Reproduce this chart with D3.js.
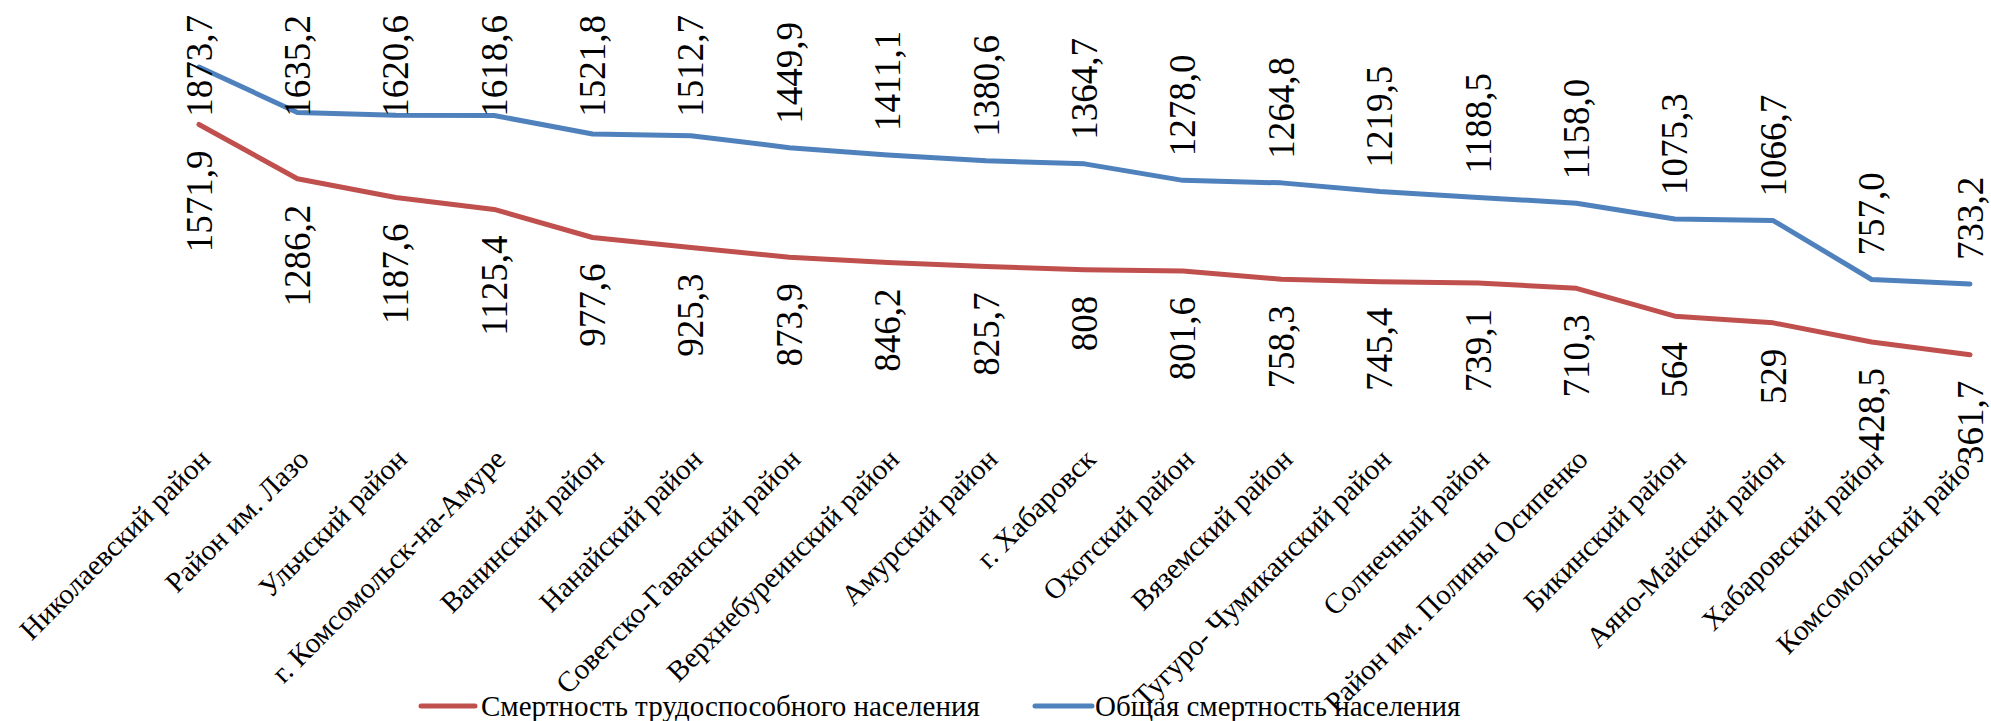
<!DOCTYPE html>
<html lang="ru">
<head>
<meta charset="UTF-8">
<title>Смертность населения</title>
<script src="https://d3js.org/d3.v7.min.js"></script>
<style>
    body { margin: 0; background: #fff; }
    svg { display: block; }
    .value-label { font-family: 'Liberation Serif', 'DejaVu Serif', serif; font-size: 37px; fill: #000; }
    .cat-label { font-family: 'Liberation Serif', 'DejaVu Serif', serif; font-size: 29px; fill: #000; }
    .legend-label { font-family: 'Liberation Serif', 'DejaVu Serif', serif; font-size: 29px; fill: #000; }
</style>
</head>
<body>
<div id="chart"></div>
<script>
// Data
const districts = [
    'Николаевский район', 'Район им. Лазо', 'Ульчский район', 'г. Комсомольск-на-Амуре',
    'Ванинский район', 'Нанайский район', 'Советско-Гаванский район', 'Верхнебуреинский район',
    'Амурский район', 'г. Хабаровск', 'Охотский район', 'Вяземский район',
    'Тугуро- Чумиканский район', 'Солнечный район', 'Район им. Полины Осипенко', 'Бикинский район',
    'Аяно-Майский район', 'Хабаровский район', 'Комсомольский район'
];
const workingAgeMortality = [1571.9, 1286.2, 1187.6, 1125.4, 977.6, 925.3, 873.9, 846.2, 825.7, 808,
    801.6, 758.3, 745.4, 739.1, 710.3, 564, 529, 428.5, 361.7];
const totalMortality = [1873.7, 1635.2, 1620.6, 1618.6, 1521.8, 1512.7, 1449.9, 1411.1, 1380.6, 1364.7,
    1278.0, 1264.8, 1219.5, 1188.5, 1158.0, 1075.3, 1066.7, 757.0, 733.2];
const seriesNames = ['Смертность трудоспособного населения', 'Общая смертность населения'];
const yDomain = [0, 2000];

const W = 1991, H = 721;
const colors = { red: '#C0504D', blue: '#4F81BD' };

const svg = d3.select('#chart').append('svg')
    .attr('width', W).attr('height', H);

const x = d3.scalePoint().domain(districts).range([199, 1970]);
const y = d3.scaleLinear().domain(yDomain).range([423.5, 43]);

const comma = v => String(v).replace('.', ',');
const fmtRed = v => Number.isInteger(v) ? String(v) : comma(v.toFixed(1));
const fmtBlue = v => comma(v.toFixed(1));

const series = [
    { key: 'red', values: workingAgeMortality, color: colors.red, fmt: fmtRed, pos: 'below' },
    { key: 'blue', values: totalMortality, color: colors.blue, fmt: fmtBlue, pos: 'above' }
];

// category labels, clipped at the right like the original
svg.append('clipPath').attr('id', 'cat-clip')
    .append('rect').attr('x', 0).attr('y', 0).attr('width', 1969).attr('height', H);

svg.append('g').attr('clip-path', 'url(#cat-clip)')
    .selectAll('text').data(districts).enter().append('text')
    .attr('class', 'cat-label')
    .attr('text-anchor', 'end')
    .attr('transform', d => `translate(${x(d) + 13},461) rotate(-45)`)
    .text(d => d);

// lines
const line = d3.line().x((d, i) => x(districts[i])).y(d => y(d));

svg.selectAll('.series-line').data(series).enter().append('path')
    .attr('class', 'series-line')
    .attr('d', d => line(d.values))
    .attr('fill', 'none')
    .attr('stroke', d => d.color)
    .attr('stroke-width', 5)
    .attr('stroke-linejoin', 'round')
    .attr('stroke-linecap', 'round');

// value labels (blue ones are pushed down so they stay inside the top edge)
series.forEach(s => {
    s.values.forEach((v, i) => {
        const px = x(districts[i]), py = y(v);
        const t = svg.append('text')
            .attr('class', 'value-label')
            .text(s.fmt(v));
        const len = t.node().getComputedTextLength();
        if (s.pos === 'above') {
            const start = Math.max(py - 24, 15 + len);
            t.attr('text-anchor', 'start')
                .attr('transform', `translate(${px + 12.5},${start}) rotate(-90)`);
        } else {
            t.attr('text-anchor', 'end')
                .attr('transform', `translate(${px + 12.5},${py + 26}) rotate(-90)`);
        }
    });
});

// legend
const legend = [
    { name: seriesNames[0], color: colors.red, x0: 421, x1: 475, tx: 481 },
    { name: seriesNames[1], color: colors.blue, x0: 1035, x1: 1092, tx: 1095 }
];
const lg = svg.append('g');
legend.forEach(l => {
    lg.append('line')
        .attr('x1', l.x0).attr('x2', l.x1).attr('y1', 706).attr('y2', 706)
        .attr('stroke', l.color).attr('stroke-width', 5).attr('stroke-linecap', 'round');
    lg.append('text').attr('class', 'legend-label')
        .attr('x', l.tx).attr('y', 716)
        .text(l.name);
});
</script>
</body>
</html>
